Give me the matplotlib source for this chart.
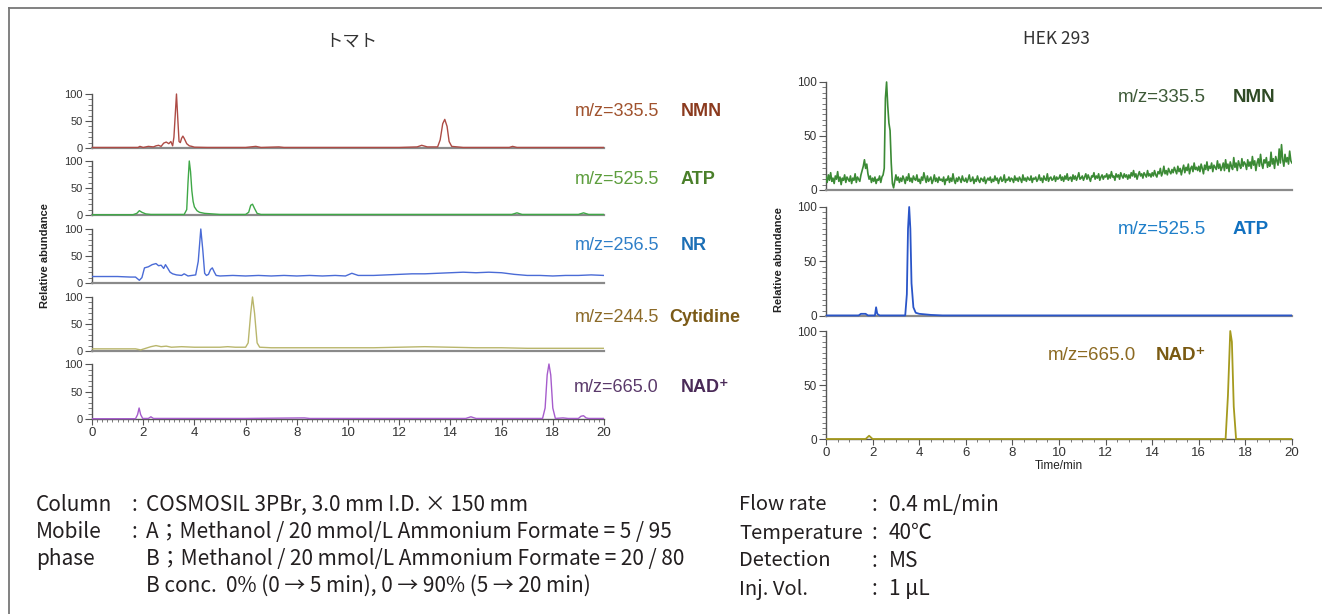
import numpy as np
import matplotlib
matplotlib.use("Agg")
import matplotlib.pyplot as plt
from matplotlib.lines import Line2D
from matplotlib.ticker import MultipleLocator

# ---------------- data (time [min], relative abundance [%]) ----------------
tomato_nmn = [(0, 1), (1.0, 1), (1.8, 1), (1.87, 3), (2.0, 1), (2.2, 3), (2.4, 2), (2.5, 4), (2.6, 5),
              (2.7, 3), (2.8, 9), (2.9, 11), (3.0, 8), (3.08, 12), (3.15, 4), (3.2, 20), (3.25, 60),
              (3.3, 100), (3.35, 55), (3.4, 12), (3.45, 10), (3.5, 18), (3.55, 22), (3.6, 18), (3.7, 8),
              (3.8, 4), (3.9, 3), (4.0, 1.5), (4.5, 1), (5.0, 1), (6.0, 1), (6.4, 3), (6.6, 1), (7.3, 2),
              (7.5, 1), (8.0, 1), (10.0, 1), (12.0, 1), (12.7, 2), (12.88, 5), (13.1, 2), (13.5, 2),
              (13.6, 15), (13.7, 45), (13.78, 53), (13.87, 40), (13.95, 12), (14.05, 3), (14.5, 1),
              (16.3, 1), (16.43, 3), (16.6, 1), (18.0, 1), (19.5, 1), (20.0, 1)]
tomato_atp = [(0, 0.5), (1.6, 0.5), (1.75, 3), (1.85, 8), (1.95, 5), (2.1, 2), (2.3, 1), (3.6, 1),
              (3.7, 10), (3.75, 60), (3.8, 100), (3.85, 80), (3.9, 45), (3.95, 25), (4.0, 15), (4.1, 8),
              (4.2, 5), (4.4, 3), (4.7, 2), (5.0, 1), (6.0, 1), (6.12, 5), (6.2, 18), (6.27, 20),
              (6.35, 12), (6.45, 3), (6.6, 1), (16.4, 1), (16.6, 4), (16.8, 1), (19.0, 1), (19.2, 4),
              (19.4, 1), (20, 1)]
tomato_nr = [(0, 12), (0.5, 12), (1.0, 12), (1.5, 11), (1.7, 11), (1.85, 5), (1.95, 10), (2.05, 28),
             (2.2, 30), (2.35, 34), (2.5, 36), (2.6, 32), (2.7, 33), (2.8, 27), (2.87, 34), (2.95, 28),
             (3.05, 20), (3.15, 17), (3.3, 15), (3.5, 14), (3.6, 17), (3.75, 13), (3.9, 14), (4.05, 15),
             (4.15, 40), (4.25, 100), (4.33, 60), (4.4, 18), (4.47, 14), (4.55, 16), (4.63, 25),
             (4.7, 28), (4.78, 20), (4.85, 14), (5.0, 13), (5.5, 14), (6.0, 13), (6.5, 14), (7.0, 13),
             (7.5, 14), (8.0, 13), (8.5, 14), (9.0, 13), (9.5, 14), (9.9, 13), (10.15, 18), (10.4, 14),
             (11.0, 14), (11.5, 15), (12.0, 16), (12.5, 17), (13.0, 17), (13.5, 18), (14.0, 19),
             (14.5, 20), (15.0, 19), (15.5, 20), (16.0, 19), (16.5, 16), (17.0, 14), (17.5, 14),
             (18.0, 13), (18.5, 14), (19.0, 14), (19.5, 15), (20.0, 14)]
tomato_cyt = [(0, 4), (1.0, 4), (1.7, 4), (1.9, 2), (2.1, 5), (2.3, 8), (2.5, 10), (2.7, 8), (2.9, 9),
              (3.1, 7), (3.5, 8), (4.0, 7), (5.0, 7), (5.3, 8), (5.6, 7), (6.0, 7), (6.1, 15), (6.2, 70),
              (6.27, 100), (6.35, 70), (6.45, 15), (6.55, 7), (7.0, 6), (8.0, 6), (9.0, 6), (10.0, 6),
              (11.0, 6), (12.0, 7), (13.0, 8), (14.0, 7), (15.0, 6), (16.0, 6), (17.0, 5), (18.0, 5),
              (19.0, 5), (20.0, 5)]
tomato_nad = [(0, 0.5), (1.7, 0.5), (1.78, 8), (1.84, 20), (1.9, 8), (1.98, 1), (2.2, 1), (2.3, 4),
              (2.4, 1), (6, 1), (8.3, 2), (8.5, 1), (14.6, 1), (14.8, 4), (15.0, 1), (17.6, 1),
              (17.7, 20), (17.78, 80), (17.85, 100), (17.92, 80), (18.0, 20), (18.1, 1), (18.4, 2),
              (18.6, 1), (19.0, 1), (19.1, 5), (19.2, 6), (19.3, 2), (19.4, 1), (20, 1)]

# HEK 293 NMN trace, one reading every 0.05 min (rows = 1 min)
hek_nmn_vals = [
    12, 7, 14, 9, 16, 8, 11, 6, 13, 10, 17, 8, 12, 5, 11, 9, 14, 7, 12, 10,
    8, 13, 6, 11, 9, 15, 7, 12, 10, 8, 14, 18, 22, 28, 20, 24, 15, 10, 13, 7,
    11, 8, 12, 6, 10, 9, 13, 7, 12, 14, 20, 85, 100, 78, 62, 55, 25, 6, 2, 8,
    14, 9, 12, 7, 11, 8, 13, 10, 6, 12, 9, 15, 8, 11, 7, 13, 10, 9, 14, 8,
    10, 6, 12, 9, 16, 11, 7, 13, 8, 10, 12, 6, 9, 14, 8, 11, 7, 12, 9, 10,
    8, 12, 5, 10, 9, 13, 7, 11, 8, 15, 9, 6, 11, 8, 12, 10, 7, 13, 9, 8,
    11, 7, 10, 14, 8, 9, 12, 6, 10, 8, 13, 9, 7, 11, 10, 8, 12, 6, 9, 11,
    9, 12, 7, 10, 8, 13, 9, 11, 6, 10, 12, 8, 9, 14, 7, 10, 9, 12, 8, 11,
    10, 7, 13, 9, 11, 8, 12, 10, 7, 14, 9, 11, 8, 12, 10, 9, 13, 7, 11, 10,
    12, 8, 10, 14, 9, 11, 7, 13, 10, 9, 15, 8, 11, 12, 9, 10, 13, 8, 12, 10,
    11, 14, 9, 12, 8, 13, 10, 15, 9, 11, 12, 8, 14, 10, 13, 9, 12, 16, 10, 11,
    13, 9, 12, 15, 10, 14, 11, 8, 13, 12, 16, 10, 13, 11, 15, 9, 12, 14, 10, 13,
    12, 15, 10, 14, 11, 17, 12, 13, 9, 15, 12, 14, 10, 16, 13, 11, 15, 12, 14, 10,
    14, 11, 16, 13, 18, 12, 15, 10, 14, 17, 13, 15, 11, 16, 14, 12, 18, 13, 15, 12,
    16, 13, 18, 14, 12, 17, 15, 20, 13, 16, 22, 15, 18, 14, 20, 17, 15, 19, 16, 21,
    18, 15, 22, 17, 20, 14, 19, 23, 16, 21, 18, 24, 15, 20, 22, 17, 25, 19, 21, 18,
    22, 17, 24, 20, 15, 23, 19, 26, 18, 22, 20, 25, 17, 23, 21, 19, 27, 20, 24, 18,
    21, 25, 18, 28, 20, 24, 17, 26, 22, 19, 30, 21, 25, 18, 27, 23, 20, 29, 22, 26,
    24, 19, 28, 22, 26, 20, 31, 23, 27, 18, 25, 29, 22, 33, 24, 20, 28, 25, 30, 21,
    26, 22, 35, 24, 29, 20, 31, 27, 23, 38, 25, 42, 28, 22, 33, 26, 30, 24, 36, 27,
    25]
hek_atp = [(0, 0.5), (1.4, 0.5), (1.5, 2), (1.7, 2), (1.8, 0.5), (2.1, 0.5), (2.15, 8), (2.2, 2),
           (2.3, 0.5), (3.4, 0.5), (3.47, 20), (3.52, 80), (3.57, 100), (3.62, 80), (3.67, 30),
           (3.75, 8), (3.85, 3), (4.0, 2), (4.5, 1), (5, 0.5), (20, 0.5)]
hek_nad = [(0, 0), (1.7, 0), (1.85, 3), (2.0, 0), (17.15, 0), (17.25, 40), (17.35, 100), (17.42, 90),
           (17.5, 30), (17.6, 0), (20, 0)]

left_mz = ["m/z=335.5", "m/z=525.5", "m/z=256.5", "m/z=244.5", "m/z=665.0"]
left_names = ["NMN", "ATP", "NR", "Cytidine", "NAD\u207a"]
right_mz = ["m/z=335.5", "m/z=525.5", "m/z=665.0"]
right_names = ["NMN", "ATP", "NAD\u207a"]

# ---------------- styling ----------------
W, H = 1322, 614
fig = plt.figure(figsize=(W / 100, H / 100), dpi=100)
ARIAL = ["Liberation Sans", "DejaVu Sans"]
CJK = ["Noto Sans CJK JP", "DejaVu Sans"]
TXT = "#231f20"

left_trace_c = ["#ad4b45", "#3fa847", "#4a6bd6", "#b9b66c", "#a65ccc"]
left_mz_c = ["#a0522d", "#5e9e3e", "#2f7fc8", "#8c6a28", "#5b3a6b"]
left_name_c = ["#8b3a1e", "#4a7f2a", "#1c6fb5", "#7b5a17", "#4a2a58"]
right_trace_c = ["#3b8a35", "#2a55c8", "#a59a1e"]
right_mz_c = ["#3e5a38", "#1f7fc9", "#8c6a22"]
right_name_c = ["#2f4a25", "#1271c0", "#7a5a12"]


def px_axes(x0, x1, y100, y0, ylo, yhi):
    ppu = (y0 - y100) / 100.0
    top = y100 - (yhi - 100) * ppu
    bot = y0 + (0 - ylo) * ppu
    ax = fig.add_axes([x0 / W, 1 - bot / H, (x1 - x0) / W, (bot - top) / H])
    ax.set_ylim(ylo, yhi)
    ax.set_xlim(0, 20)
    return ax


def style(ax, bottom, ymin_step, xmin_step, ylab_size, xlab_size):
    for s in ("top", "right"):
        ax.spines[s].set_visible(False)
    ax.spines["left"].set_bounds(0, 100)
    ax.spines["left"].set_color("#555555")
    ax.spines["left"].set_linewidth(1.0)
    ax.spines["bottom"].set_position(("data", 0))
    ax.spines["bottom"].set_color("#8a8a8a" if not bottom else "#555555")
    ax.spines["bottom"].set_linewidth(1.6 if not bottom else 1.0)
    ax.set_yticks([0, 50, 100])
    ax.yaxis.set_minor_locator(MultipleLocator(ymin_step))
    ax.tick_params(axis="y", which="major", length=5, width=0.8, color="#555555",
                   labelsize=ylab_size, labelcolor="#333333", pad=1.5)
    ax.tick_params(axis="y", which="minor", length=3, width=0.6, color="#666666")
    for lb in ax.get_yticklabels():
        lb.set_family(ARIAL)
    if bottom:
        ax.set_xticks(np.arange(0, 21, 2))
        ax.xaxis.set_minor_locator(MultipleLocator(xmin_step))
        ax.tick_params(axis="x", which="major", length=4, width=0.8, color="#555555",
                       labelsize=xlab_size, labelcolor="#333333", pad=2)
        ax.tick_params(axis="x", which="minor", length=2.5, width=0.6, color="#666666")
        for lb in ax.get_xticklabels():
            lb.set_family(ARIAL)
    else:
        ax.tick_params(axis="x", which="both", bottom=False, labelbottom=False)
    ax.patch.set_alpha(0)


def ftext(x, y, s, **kw):
    fig.text(x / W, 1 - y / H, s, **kw)


# ---------------- left panel (tomato) ----------------
left_traces = [tomato_nmn, tomato_atp, tomato_nr, tomato_cyt, tomato_nad]
left_rows = [(94, 148), (161, 215), (229, 283), (297, 351), (364, 419)]
left_label_y = [112, 180, 246, 317, 387]
for i, (tr, (y100, y0)) in enumerate(zip(left_traces, left_rows)):
    ax = px_axes(92, 604, y100, y0, -4, 106)
    t, v = zip(*tr)
    ax.plot(t, v, color=left_trace_c[i], lw=1.0, zorder=3)
    style(ax, i == len(left_traces) - 1, 10, 0.2, 8, 9.5)
    ftext(659, left_label_y[i], left_mz[i], ha="right", va="center", fontsize=13,
          family=ARIAL, color=left_mz_c[i])
    nx = 669 if left_names[i] == "Cytidine" else 681
    ftext(nx, left_label_y[i], left_names[i], ha="left", va="center", fontsize=13,
          family=ARIAL, fontweight="bold", color=left_name_c[i])

ftext(45, 256, "Relative abundance", rotation=90, ha="center", va="center",
      fontsize=8, fontweight="bold", family=ARIAL, color="#222222")

# ---------------- right panel (HEK 293) ----------------
hek_t = np.linspace(0, 20, len(hek_nmn_vals))
right_traces = [list(zip(hek_t, hek_nmn_vals)), hek_atp, hek_nad]
right_rows = [(82, 190), (207, 316), (331, 439)]
right_label_pos = [(1118, 1233, 98), (1118, 1233, 230), (1048, 1156, 356)]
for i, (tr, (y100, y0)) in enumerate(zip(right_traces, right_rows)):
    ax = px_axes(826, 1292, y100, y0, -3, 104)
    t, v = zip(*tr)
    ax.plot(t, v, color=right_trace_c[i], lw=1.2 if i == 0 else 1.3, zorder=3)
    style(ax, i == len(right_traces) - 1, 5, 0.5, 8.5, 9.5)
    mx, nx, ly = right_label_pos[i]
    ftext(mx, ly, right_mz[i], ha="left", va="center", fontsize=13.5,
          family=ARIAL, color=right_mz_c[i])
    ftext(nx, ly, right_names[i], ha="left", va="center", fontsize=13.5,
          family=ARIAL, fontweight="bold", color=right_name_c[i])

ftext(779, 260, "Relative abundance", rotation=90, ha="center", va="center",
      fontsize=8, fontweight="bold", family=ARIAL, color="#222222")
ftext(1059, 466, "Time/min", ha="center", va="center", fontsize=8.5,
      family=ARIAL, color="#222222")

# ---------------- titles ----------------
ftext(351, 42, "トマト", ha="center", va="center", fontsize=12.5, family=CJK, color="#333333")
ftext(1056, 39, "HEK 293", ha="center", va="center", fontsize=12.5, family=CJK, color="#333333")

# ---------------- conditions ----------------
FS = 15
left_rows_txt = [
    (505, "Column", ":", "COSMOSIL 3PBr, 3.0 mm I.D. × 150 mm"),
    (532, "Mobile", ":", "A；Methanol / 20 mmol/L Ammonium Formate = 5 / 95"),
    (559, "phase", "", "B；Methanol / 20 mmol/L Ammonium Formate = 20 / 80"),
    (586, "", "", "B conc.  0% (0 → 5 min), 0 → 90% (5 → 20 min)"),
]
for y, a, c, b in left_rows_txt:
    if a:
        ftext(36, y, a, ha="left", va="center", fontsize=FS, family=CJK, color=TXT)
    if c:
        ftext(134, y, c, ha="center", va="center", fontsize=FS, family=CJK, color=TXT)
    ftext(146, y, b, ha="left", va="center", fontsize=FS, family=CJK, color=TXT)

right_rows_txt = [
    (505, "Flow rate", "0.4 mL/min"),
    (533, "Temperature", "40℃"),
    (561, "Detection", "MS"),
    (589, "Inj. Vol.", "1 µL"),
]
for y, a, b in right_rows_txt:
    ftext(739, y, a, ha="left", va="center", fontsize=14.5, family=CJK, color=TXT)
    ftext(874, y, ":", ha="center", va="center", fontsize=FS, family=CJK, color=TXT)
    ftext(889, y, b, ha="left", va="center", fontsize=FS, family=CJK, color=TXT)

# ---------------- frame ----------------
fig.add_artist(Line2D([9 / W, 9 / W], [0, 1 - 8 / H], transform=fig.transFigure,
                      color="#777777", lw=1.3))
fig.add_artist(Line2D([9 / W, 1], [1 - 8 / H, 1 - 8 / H], transform=fig.transFigure,
                      color="#777777", lw=1.3))

fig.savefig("out.png", dpi=100)
